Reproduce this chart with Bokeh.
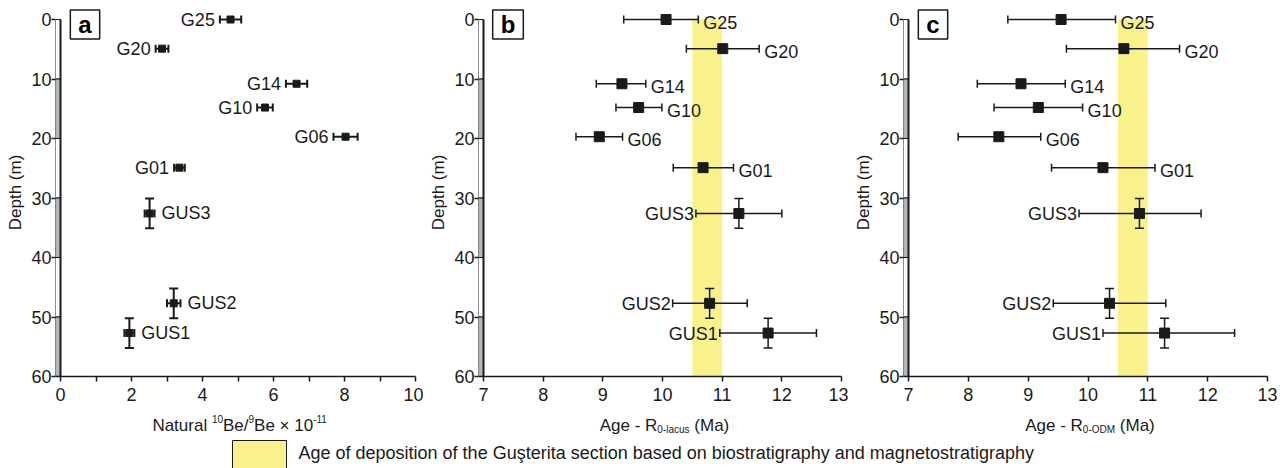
from bokeh.plotting import figure
from bokeh.models import Range1d, FixedTicker, ColumnDataSource, Whisker, TeeHead, Label
from bokeh.layouts import row, column
from bokeh.core.properties import value
from bokeh.embed import file_html
from bokeh.resources import INLINE

# ---------------- data ----------------
samples = ["G25", "G20", "G14", "G10", "G06", "G01", "GUS3", "GUS2", "GUS1"]
depth = [0.0, 4.9, 10.8, 14.8, 19.7, 24.9, 32.6, 47.7, 52.7]
depth_err = [0, 0, 0, 0, 0, 0, 2.5, 2.5, 2.5]

be_ratio = [4.79, 2.86, 6.65, 5.76, 8.03, 3.35, 2.51, 3.19, 1.94]
be_ratio_err = [0.30, 0.18, 0.30, 0.22, 0.34, 0.15, 0.14, 0.19, 0.14]

age_lacus = [10.06, 11.01, 9.32, 9.60, 8.94, 10.68, 11.28, 10.79, 11.77]
age_lacus_lo = [9.35, 10.40, 8.89, 9.22, 8.55, 10.18, 10.56, 10.17, 10.96]
age_lacus_hi = [10.60, 11.62, 9.72, 9.99, 9.33, 11.19, 12.00, 11.42, 12.58]

age_odm = [9.55, 10.60, 8.88, 9.17, 8.51, 10.25, 10.86, 10.36, 11.28]
age_odm_lo = [8.66, 9.64, 8.15, 8.43, 7.83, 9.39, 9.85, 9.42, 10.25]
age_odm_hi = [10.46, 11.53, 9.62, 9.91, 9.21, 11.12, 11.89, 11.30, 12.45]

deposition_age = [10.5, 11.0]          # Ma, biostratigraphy + magnetostratigraphy

strat_top = [0, 10, 20, 30, 40, 50]
strat_bottom = [10, 20, 30, 40, 50, 60]
strat_shaded = [False, True, False, True, False, True]

ratio_ticks = [0, 2, 4, 6, 8, 10]
ratio_minor = [1, 3, 5, 7, 9]
age_ticks = [7, 8, 9, 10, 11, 12, 13]
depth_ticks = [0, 10, 20, 30, 40, 50, 60]

title_a = [("Natural ", "main"), ("10", "sup"), ("Be/", "main"), ("9", "sup"),
           ("Be × 10", "main"), ("-11", "sup")]
title_b = [("Age - R", "main"), ("0-lacus", "sub"), (" (Ma)", "main")]
title_c = [("Age - R", "main"), ("0-ODM", "sub"), (" (Ma)", "main")]

legend_text = "Age of deposition of the Guşterita section based on biostratigraphy and magnetostratigraphy"

# ---------------- style ----------------
FONT = "Liberation Sans"
INK = "#1a1a1a"
YELLOW = "#f9f28c"
GREY = "#b4b4b4"
COL_PX = 5          # width of strat column in px
TOP = 8             # px above the frame
FRAME_H = 368
TOP_GAP = 11        # px between frame top and depth 0
BOTTOM = 32
LEFT = 55
PPU_Y = (FRAME_H - TOP_GAP) / 60.0
TICK_FS = "18px"
LABEL_FS = "18px"
TITLE_FS = 17
SMALL_FS = 10

ARIAL = {' ': 278, 'N': 722, 'a': 556, 't': 278, 'u': 556, 'r': 333, 'l': 222, '1': 556,
         '0': 556, 'B': 667, 'e': 556, '/': 278, '9': 556, '×': 584, '-': 333, 'A': 667,
         'g': 556, 'R': 722, 'c': 500, 's': 500, '(': 333, 'M': 833, ')': 333, 'O': 778,
         'D': 722}


def text_w(s, size):
    return sum(ARIAL.get(ch, 556) for ch in s) * size / 1000.0


def make_panel(letter, xs, lo, hi, x0, x1, frame_w, right, major, minor,
               sides, gap_l, gap_r, yoff_l, yoff_r, msize, lw, band):
    ppu = (frame_w - COL_PX) / (x1 - x0)
    xstart = x0 - COL_PX / ppu
    p = figure(frame_width=frame_w, frame_height=FRAME_H,
               x_range=Range1d(xstart, x1),
               y_range=Range1d(60, -TOP_GAP / PPU_Y),
               toolbar_location=None, output_backend="svg",
               min_border_left=LEFT, min_border_right=right,
               min_border_top=TOP, min_border_bottom=BOTTOM)
    p.grid.visible = False
    p.outline_line_color = None
    p.background_fill_color = "white"
    p.border_fill_color = "white"

    if band:
        p.quad(left=[deposition_age[0]], right=[deposition_age[1]], top=[min(strat_top)],
               bottom=[max(strat_bottom)], fill_color=YELLOW, line_color=None,
               level="underlay")

    # strat column
    p.quad(left=[xstart] * len(strat_top), right=[x0] * len(strat_top), top=strat_top,
           bottom=strat_bottom,
           fill_color=[GREY if s else "white" for s in strat_shaded],
           line_color=INK, line_width=1)
    p.segment(x0=[x0], y0=[min(strat_top)], x1=[x0], y1=[max(strat_bottom)],
              line_color=INK, line_width=2)

    # horizontal error bars
    src = ColumnDataSource(dict(y=depth, lo=lo, hi=hi))
    p.add_layout(Whisker(source=src, base="y", lower="lo", upper="hi", dimension="width",
                         line_color=INK, line_width=lw, level="annotation",
                         upper_head=TeeHead(size=8, line_color=INK, line_width=lw),
                         lower_head=TeeHead(size=8, line_color=INK, line_width=lw)))
    # vertical error bars
    vx = [x for x, e in zip(xs, depth_err) if e > 0]
    vlo = [d - e for d, e in zip(depth, depth_err) if e > 0]
    vhi = [d + e for d, e in zip(depth, depth_err) if e > 0]
    vsrc = ColumnDataSource(dict(x=vx, lo=vlo, hi=vhi))
    p.add_layout(Whisker(source=vsrc, base="x", lower="lo", upper="hi", dimension="height",
                         line_color=INK, line_width=lw, level="annotation",
                         upper_head=TeeHead(size=9, line_color=INK, line_width=lw),
                         lower_head=TeeHead(size=9, line_color=INK, line_width=lw)))

    p.scatter(xs, depth, marker="square", size=msize, fill_color=INK, line_color=INK)

    # point labels
    lx, ly, la, lxo, lyo = [], [], [], [], []
    for l, h, d, side in zip(lo, hi, depth, sides):
        if side == "left":
            lx.append(l); la.append("right"); lxo.append(-gap_l); lyo.append(yoff_l)
        else:
            lx.append(h); la.append("left"); lxo.append(gap_r); lyo.append(yoff_r)
        ly.append(d)
    lsrc = ColumnDataSource(dict(x=lx, y=ly, t=samples, a=la, xo=lxo, yo=lyo))
    p.text(x="x", y="y", text="t", text_align="a", x_offset="xo", y_offset="yo",
           text_baseline="middle", text_font=value(FONT), text_font_size=LABEL_FS,
           text_color=INK, source=lsrc)

    # axes
    p.xaxis.ticker = FixedTicker(ticks=major, minor_ticks=minor)
    p.yaxis.ticker = FixedTicker(ticks=depth_ticks)
    for ax in (p.xaxis, p.yaxis):
        ax.major_label_text_font = FONT
        ax.major_label_text_font_size = TICK_FS
        ax.major_label_text_color = INK
        ax.major_tick_in = 0
        ax.minor_tick_in = 0
        ax.major_tick_line_color = INK
        ax.minor_tick_line_color = INK
        ax.major_tick_line_width = 1.5
        ax.minor_tick_line_width = 1.5
    p.xaxis.major_tick_out = 5
    p.xaxis.minor_tick_out = 5
    p.xaxis.axis_line_width = 1.5
    p.xaxis.axis_line_color = INK
    p.xaxis.major_label_standoff = 6
    p.yaxis.major_tick_out = 4
    p.yaxis.minor_tick_out = 0
    p.yaxis.axis_line_color = None
    p.yaxis.major_label_standoff = 0
    p.yaxis.axis_label = "Depth (m)"
    p.yaxis.axis_label_text_font = FONT
    p.yaxis.axis_label_text_font_size = f"{TITLE_FS}px"
    p.yaxis.axis_label_text_font_style = "normal"
    p.yaxis.axis_label_text_color = INK
    p.yaxis.axis_label_standoff = 3

    # panel letter
    p.add_layout(Label(x=xstart + 29.5 / ppu, y=(16 - TOP_GAP) / PPU_Y, text=letter,
                       text_align="center", text_baseline="middle", text_font=FONT,
                       text_font_size="24px", text_font_style="bold", text_color="black",
                       background_fill_color="white", border_line_color=INK,
                       border_line_width=1.5,
                       padding=dict(left=8, right=8, top=1, bottom=1)))
    return p


side_a = ["left"] * 6 + ["right"] * 3
side_bc = ["right"] * 6 + ["left"] * 3

lo_a = [v - e for v, e in zip(be_ratio, be_ratio_err)]
hi_a = [v + e for v, e in zip(be_ratio, be_ratio_err)]

# (frame width, right border) per panel
FW = [360, 363, 364]
RB = [8, 7, 13]

pa = make_panel("a", be_ratio, lo_a, hi_a, 0, 10, FW[0], RB[0], ratio_ticks, ratio_minor,
                side_a, 5, 7, 0, 0, 7, 2, False)
pb = make_panel("b", age_lacus, age_lacus_lo, age_lacus_hi, 7, 13, FW[1], RB[1], age_ticks, [],
                side_bc, 2, 5, 1, 3, 10, 1.5, True)
pc = make_panel("c", age_odm, age_odm_lo, age_odm_hi, 7, 13, FW[2], RB[2], age_ticks, [],
                side_bc, 2, 5, 1, 3, 10, 1.5, True)

TOTAL_W = sum(LEFT + f + r for f, r in zip(FW, RB))
PANEL_H = TOP + FRAME_H + BOTTOM

# bottom strip: x-axis titles (with sub/superscript runs) and the legend
STRIP_H = 468 - PANEL_H
st = figure(width=TOTAL_W, height=STRIP_H, x_range=Range1d(0, TOTAL_W),
            y_range=Range1d(STRIP_H, 0), toolbar_location=None, output_backend="svg",
            min_border=0)
st.axis.visible = False
st.grid.visible = False
st.outline_line_color = None

BASE = 425 - PANEL_H      # baseline of the axis titles, px from strip top
sizes = {"main": TITLE_FS, "sup": SMALL_FS, "sub": SMALL_FS}
rise = {"main": 0, "sup": 7, "sub": -4}
start = 0
for parts, f, r in zip([title_a, title_b, title_c], FW, RB):
    center = start + LEFT + COL_PX + (f - COL_PX) / 2.0 + 2
    total = sum(text_w(t, sizes[k]) for t, k in parts)
    cur = center - total / 2.0
    xs_, ys_, ts_, fs_ = [], [], [], []
    for t, k in parts:
        lead = len(t) - len(t.lstrip(" "))
        xs_.append(cur + text_w(" " * lead, sizes[k]))
        ys_.append(BASE - rise[k])
        ts_.append(t.strip(" "))
        fs_.append(f"{sizes[k]}px")
        cur += text_w(t, sizes[k])
    st.text(x=xs_, y=ys_, text=ts_, text_font_size=fs_, text_align="left",
            text_baseline="alphabetic", text_font=value(FONT), text_color=INK)
    start += LEFT + f + r

# legend
st.quad(left=[232], right=[286], top=[440 - PANEL_H], bottom=[STRIP_H + 5],
        fill_color=YELLOW, line_color=INK, line_width=1)
st.text(x=[298], y=[452 - PANEL_H], text=[legend_text], text_baseline="middle",
        text_align="left", text_font=value(FONT), text_font_size="18px", text_color=INK)

layout = column(row(pa, pb, pc), st)
open("out.html", "w").write(file_html(layout, INLINE))
